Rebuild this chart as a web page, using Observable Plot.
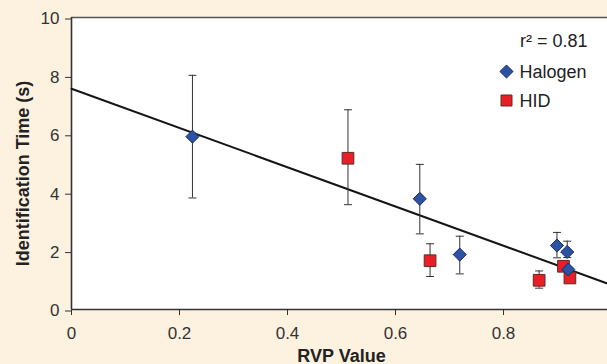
<!DOCTYPE html>
<html>
<head>
<meta charset="utf-8">
<script src="https://cdn.jsdelivr.net/npm/d3@7"></script>
<script src="https://cdn.jsdelivr.net/npm/@observablehq/plot@0.6"></script>
<style>
  html, body { margin: 0; padding: 0; background: #fdf1e0; overflow: hidden; width: 607px; height: 364px; }
  #chart { width: 607px; height: 364px; overflow: hidden; }
</style>
</head>
<body>
<div id="chart"></div>
<script>
// ---- data ----
const halogenRVP  = [0.224, 0.645, 0.719, 0.899, 0.918, 0.920];
const halogenTime = [5.92, 3.79, 1.88, 2.19, 1.97, 1.37];
const halogenHigh = [8.02, 4.97, 2.51, 2.64, 2.34, 1.37];
const halogenLow  = [3.82, 2.59, 1.22, 1.77, 1.78, 1.37];

const hidRVP  = [0.512, 0.664, 0.866, 0.911, 0.923];
const hidTime = [5.18, 1.67, 1.00, 1.48, 1.08];
const hidHigh = [6.84, 2.25, 1.32, 1.48, 1.08];
const hidLow  = [3.59, 1.13, 0.73, 1.48, 1.08];

const fitRVP  = [0, 1];
const fitTime = [7.56, 0.84];

const xTicks = [0, 0.2, 0.4, 0.6, 0.8, 1];
const yTicks = [0, 2, 4, 6, 8, 10];
const rSquaredLabel = "r² = 0.81";
const seriesNames = ["Halogen", "HID"];

// ---- tables ----
const halogen = halogenRVP.map((x, i) => ({x, y: halogenTime[i], hi: halogenHigh[i], lo: halogenLow[i]}));
const hid = hidRVP.map((x, i) => ({x, y: hidTime[i], hi: hidHigh[i], lo: hidLow[i]}));
const fit = fitRVP.map((x, i) => ({x, y: fitTime[i]}));
const withBars = d => d.filter(r => r.hi !== r.lo);

const cap = {
  draw(ctx, size) {
    const w = Math.sqrt(size / Math.PI);
    ctx.moveTo(-w, 0);
    ctx.lineTo(w, 0);
  }
};

const blueFill = "#2c52a3", blueStroke = "#1b2c60";
const redFill = "#e81f27", redStroke = "#5b2b2b";
const ink = "#333333";

const chart = Plot.plot({
  width: 607,
  height: 364,
  marginLeft: 71,
  marginRight: -4,
  marginTop: 17,
  marginBottom: 55,
  style: {
    background: "#fdf1e0",
    fontFamily: "'Liberation Sans', Arial, sans-serif",
    fontSize: "17px",
    color: ink,
    overflow: "hidden"
  },
  x: {domain: [xTicks[0], xTicks[xTicks.length - 1]]},
  y: {domain: [yTicks[0], yTicks[yTicks.length - 1]]},
  marks: [
    Plot.frame({fill: "white", stroke: null}),
    Plot.axisY({ticks: yTicks, tickSize: 6, tickPadding: 6, label: null, dy: 1.5, fontSize: 17, stroke: ink, fill: ink}),
    Plot.axisX({ticks: xTicks, tickSize: 6, tickPadding: 11, label: null, tickFormat: d => String(d), fontSize: 17, stroke: ink, fill: ink}),
    Plot.ruleY([yTicks[yTicks.length - 1]], {stroke: "#555", strokeWidth: 1.5}),
    Plot.ruleX([xTicks[0]], {stroke: ink, strokeWidth: 1.6}),
    Plot.ruleY([yTicks[0]], {stroke: ink, strokeWidth: 1.6}),
    // regression line
    Plot.line(fit, {x: "x", y: "y", stroke: "#151515", strokeWidth: 2}),
    // error bars
    Plot.ruleX(withBars(halogen), {x: "x", y1: "lo", y2: "hi", stroke: ink, strokeWidth: 1}),
    Plot.ruleX(withBars(hid), {x: "x", y1: "lo", y2: "hi", stroke: ink, strokeWidth: 1}),
    Plot.dot(withBars(halogen), {x: "x", y: "hi", symbol: cap, r: 4, fill: "none", stroke: ink, strokeWidth: 1}),
    Plot.dot(withBars(halogen), {x: "x", y: "lo", symbol: cap, r: 4, fill: "none", stroke: ink, strokeWidth: 1}),
    Plot.dot(withBars(hid), {x: "x", y: "hi", symbol: cap, r: 4, fill: "none", stroke: ink, strokeWidth: 1}),
    Plot.dot(withBars(hid), {x: "x", y: "lo", symbol: cap, r: 4, fill: "none", stroke: ink, strokeWidth: 1}),
    // markers
    Plot.dot(hid, {x: "x", y: "y", symbol: "square", r: 6.6, fill: redFill, stroke: redStroke, strokeWidth: 1}),
    Plot.dot(halogen, {x: "x", y: "y", symbol: "diamond2", r: 5.9, fill: blueFill, stroke: blueStroke, strokeWidth: 1}),
    // legend
    Plot.text([rSquaredLabel], {frameAnchor: "top-left", dx: 516, dy: 24, textAnchor: "end", lineAnchor: "middle", fontSize: 18, fill: "#222"}),
    Plot.dot([seriesNames[0]], {frameAnchor: "top-left", dx: 435, dy: 54, symbol: "diamond2", r: 5.9, fill: blueFill, stroke: blueStroke, strokeWidth: 1}),
    Plot.text([seriesNames[0]], {frameAnchor: "top-left", dx: 448, dy: 55, textAnchor: "start", lineAnchor: "middle", fontSize: 18, fill: "#222"}),
    Plot.dot([seriesNames[1]], {frameAnchor: "top-left", dx: 435, dy: 83, symbol: "square", r: 6.2, fill: redFill, stroke: redStroke, strokeWidth: 1}),
    Plot.text([seriesNames[1]], {frameAnchor: "top-left", dx: 448, dy: 84, textAnchor: "start", lineAnchor: "middle", fontSize: 18, fill: "#222"}),
    // axis titles
    Plot.text(["RVP Value"], {frameAnchor: "bottom", dy: 47, textAnchor: "middle", lineAnchor: "middle", fontSize: 18, fontWeight: "bold", fill: "#222"}),
    Plot.text(["Identification Time (s)"], {frameAnchor: "left", dx: -48, dy: 10, rotate: -90, textAnchor: "middle", lineAnchor: "middle", fontSize: 18, fontWeight: "bold", fill: "#222"})
  ]
});
document.getElementById("chart").appendChild(chart);
</script>
</body>
</html>
